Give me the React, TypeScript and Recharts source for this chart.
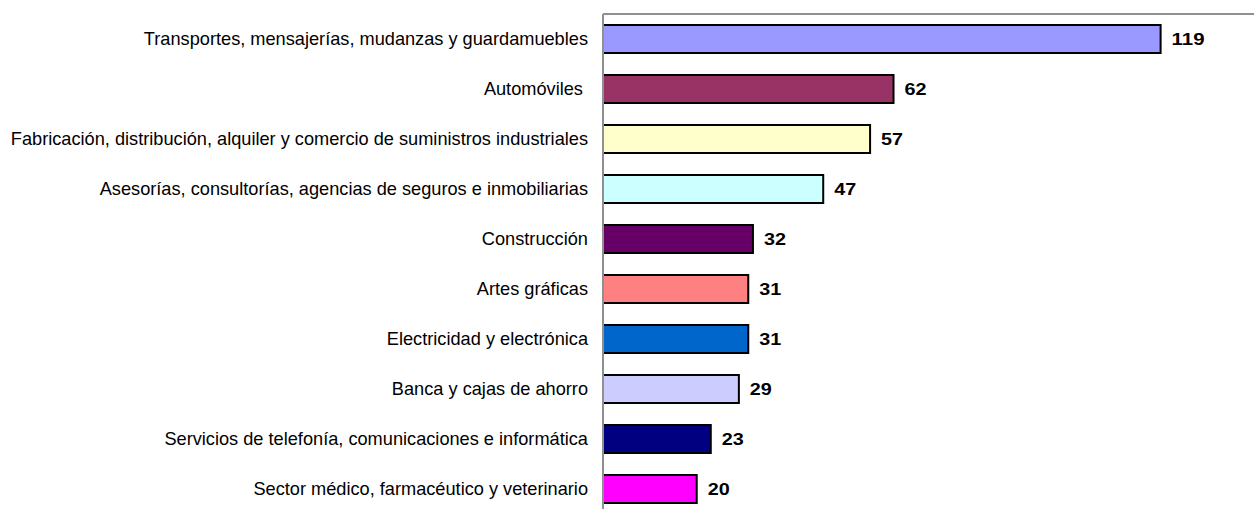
import { BarChart, Bar, XAxis, YAxis, Cell, LabelList } from 'recharts';

const sectors = [
  'Transportes, mensajerías, mudanzas y guardamuebles',
  'Automóviles\u00a0',
  'Fabricación, distribución, alquiler y comercio de suministros industriales',
  'Asesorías, consultorías, agencias de seguros e inmobiliarias',
  'Construcción',
  'Artes gráficas',
  'Electricidad y electrónica',
  'Banca y cajas de ahorro',
  'Servicios de telefonía, comunicaciones e informática',
  'Sector médico, farmacéutico y veterinario',
];

const counts = [119, 62, 57, 47, 32, 31, 31, 29, 23, 20];

const barColors = [
  '#9999FF',
  '#993366',
  '#FFFFCC',
  '#CCFFFF',
  '#660066',
  '#FF8080',
  '#0066CC',
  '#CCCCFF',
  '#000080',
  '#FF00FF',
];

const data = sectors.map((name, i) => ({ name, value: counts[i] }));

const font = '"Liberation Sans", Arial, sans-serif';

// value labels are a bit wider than the font's own digits, so stretch them
const ValueLabel = (props: any) => {
  const { x, y, width, height, value } = props;
  const s = String(value);
  return (
    <text
      x={x + width + 11}
      y={y + height / 2}
      dy="0.36em"
      fontSize={16.5}
      fontWeight="bold"
      fontFamily={font}
      fill="#000"
      textLength={s.length * 11}
      lengthAdjust="spacingAndGlyphs"
    >
      {s}
    </text>
  );
};

export default function App() {
  return (
    <div style={{ position: 'absolute', left: 0, top: 0 }}>
      <BarChart
        width={1259}
        height={520}
        data={data}
        layout="vertical"
        margin={{ top: 13, right: 0, bottom: 6, left: 0 }}
      >
        <XAxis
          type="number"
          orientation="top"
          domain={[0, 140]}
          height={1}
          tick={false}
          tickLine={false}
          axisLine={{ stroke: '#909090', strokeWidth: 2 }}
        />
        <YAxis
          type="category"
          dataKey="name"
          width={603}
          tickLine={false}
          tickSize={0}
          tickMargin={15}
          axisLine={{ stroke: '#909090', strokeWidth: 2 }}
          interval={0}
          tick={{ fontSize: 18.2, fill: '#000', fontFamily: font }}
        />
        <Bar dataKey="value" barSize={28} stroke="#000" strokeWidth={2} isAnimationActive={false}>
          {data.map((d, i) => (
            <Cell key={d.name} fill={barColors[i]} />
          ))}
          <LabelList dataKey="value" content={ValueLabel} />
        </Bar>
      </BarChart>
    </div>
  );
}
